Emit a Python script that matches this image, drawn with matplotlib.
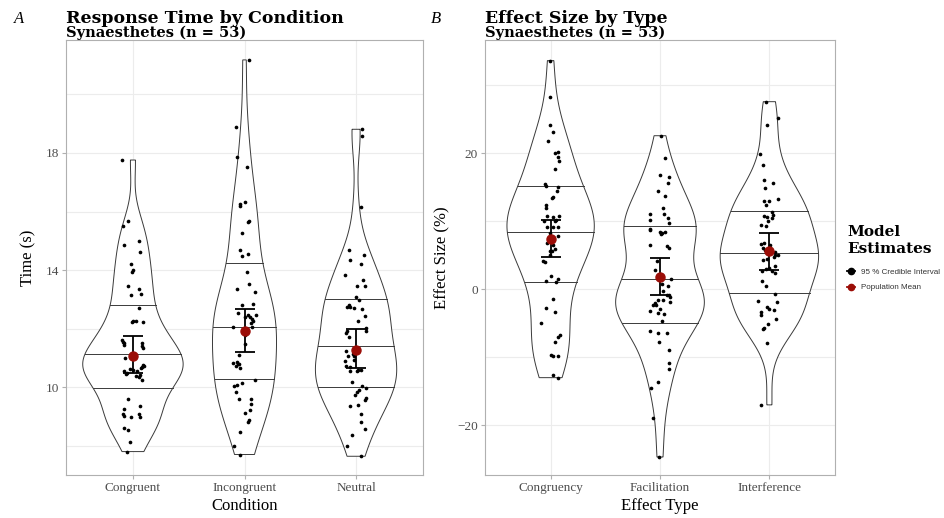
import numpy as np
import matplotlib
matplotlib.use("Agg")
import matplotlib.pyplot as plt
from matplotlib.lines import Line2D

# ---------------- data ----------------
conditions = ["Congruent", "Incongruent", "Neutral"]
effect_types = ["Congruency", "Facilitation", "Interference"]

congruent_rt = [17.76, 15.68, 15.50, 15.00, 14.85, 14.63, 14.21, 14.02, 13.95, 13.45, 13.34, 13.16, 13.18,
                12.72, 12.27, 12.21, 12.22, 11.61, 11.52, 11.44, 11.50, 11.33, 11.01, 10.75, 10.70, 10.61,
                10.54, 10.58, 10.45, 10.36, 10.24, 10.39, 9.61, 9.25, 9.35, 9.07, 8.97, 8.99, 9.10, 8.59,
                8.53, 8.13, 7.80, 11.55, 11.40, 10.65, 10.50, 10.42, 10.72, 11.05, 10.55, 9.02, 12.25]
congruent_jit = [-0.10, -0.04, -0.09, 0.05, -0.08, 0.06, -0.02, 0.00, -0.01, -0.04, 0.05, -0.02, 0.07,
                 0.05, 0.00, -0.01, 0.09, -0.10, -0.08, -0.08, 0.08, 0.09, -0.07, 0.09, 0.08, -0.03,
                 -0.08, 0.00, -0.06, 0.05, 0.08, 0.03, -0.04, -0.08, 0.06, -0.09, -0.02, 0.06, 0.05, -0.08,
                 -0.04, -0.03, -0.05, -0.09, 0.08, 0.07, -0.05, 0.06, 0.10, 0.02, 0.04, -0.08, 0.03]

incongruent_rt = [21.18, 18.88, 17.87, 17.51, 16.25, 16.32, 16.19, 15.69, 15.64, 15.28, 14.67, 14.49, 14.55,
                  13.94, 13.36, 13.51, 13.25, 12.80, 12.84, 12.48, 12.54, 12.40, 12.40, 12.26, 12.34, 12.06,
                  12.06, 11.77, 11.46, 11.09, 10.83, 10.85, 10.80, 10.71, 10.64, 10.24, 10.13, 10.09, 10.03,
                  9.84, 9.61, 9.58, 9.44, 9.21, 9.12, 8.87, 8.81, 8.47, 7.98, 7.70, 12.45, 10.78, 12.20]
incongruent_jit = [0.04, -0.08, -0.07, 0.02, -0.04, 0.00, -0.04, 0.04, 0.03, -0.02, -0.04, -0.02, 0.03,
                   0.02, -0.07, 0.04, 0.09, -0.02, 0.08, 0.10, -0.06, 0.00, 0.05, 0.08, 0.07, -0.10,
                   0.07, 0.00, 0.00, -0.05, -0.10, -0.07, -0.06, -0.08, -0.04, 0.09, -0.02, -0.07, -0.09,
                   -0.08, -0.05, 0.06, 0.06, 0.05, 0.00, 0.04, 0.03, -0.04, -0.09, -0.04, 0.03, -0.05, 0.06]

neutral_rt = [18.81, 18.58, 16.16, 14.68, 14.52, 14.34, 14.20, 13.84, 13.66, 13.47, 13.47, 13.07, 12.98,
              12.75, 12.80, 12.73, 12.66, 12.43, 12.27, 11.93, 11.86, 12.01, 11.93, 11.72, 11.23, 11.07,
              11.07, 10.91, 10.94, 10.69, 10.73, 10.57, 10.54, 10.54, 10.17, 10.03, 9.96, 9.85, 9.74,
              9.64, 9.57, 9.36, 9.38, 9.09, 8.80, 8.38, 8.57, 7.99, 7.64, 11.15, 10.60, 9.90, 12.70]
neutral_jit = [0.05, 0.05, 0.04, -0.06, 0.07, -0.05, 0.04, -0.10, 0.06, 0.01, 0.08, 0.00, 0.03,
               -0.08, -0.06, -0.05, 0.05, 0.08, 0.02, -0.08, -0.09, 0.09, 0.09, -0.06, -0.09, -0.07,
               -0.02, -0.10, -0.02, -0.05, -0.09, 0.04, -0.05, 0.01, -0.04, 0.05, 0.09, 0.01, -0.01,
               0.09, 0.08, -0.05, 0.02, 0.04, 0.04, -0.04, 0.08, -0.08, 0.04, -0.03, 0.02, 0.03, -0.02]

congruency_es = [33.57, 28.28, 24.16, 23.08, 21.81, 19.94, 20.14, 19.45, 18.87, 17.59, 15.44, 15.20, 14.94,
                 14.45, 13.57, 13.33, 12.40, 11.86, 10.78, 10.63, 10.78, 9.95, 10.04, 9.16, 9.16, 9.06,
                 8.18, 7.79, 6.81, 6.52, 5.93, 5.64, 5.64, 4.16, 3.97, 4.95, 1.96, 1.22, 1.47, 1.12,
                 -1.47, -2.70, -3.39, -4.91, -6.72, -7.01, -7.70, -9.66, -9.80, -9.85, -12.60, -13.00, 10.20]
congruency_jit = [-0.01, -0.01, -0.01, 0.02, -0.02, 0.04, 0.07, 0.07, 0.08, 0.04, -0.05, -0.04, 0.07,
                  0.06, 0.02, 0.01, -0.04, -0.04, -0.03, 0.02, 0.08, -0.06, 0.04, -0.03, 0.02, 0.07,
                  -0.01, 0.07, -0.03, 0.02, 0.04, -0.01, 0.01, -0.07, -0.05, -0.01, 0.00, -0.04, 0.07, 0.05,
                  0.02, -0.04, 0.04, -0.09, 0.09, 0.07, 0.04, 0.00, 0.02, 0.07, 0.02, 0.07, 0.05]

facilitation_es = [22.54, 19.26, 16.76, 16.51, 15.53, 14.41, 13.62, 11.96, 11.07, 11.00, 10.48, 10.09, 9.70,
                   8.82, 8.62, 8.43, 8.23, 8.33, 8.04, 6.47, 6.37, 6.07, 4.12, 2.84, 1.49, 0.41, 0.78,
                   -0.93, -0.93, -1.12, -1.87, -1.58, -1.58, -2.04, -2.33, -2.40, -3.25, -3.53, -3.72, -4.65,
                   -6.13, -6.41, -6.41, -7.80, -9.00, -10.90, -11.70, -13.60, -14.50, -18.90, -24.66, -0.20, -2.90]
facilitation_jit = [0.01, 0.05, 0.00, 0.08, 0.07, -0.02, 0.05, 0.03, 0.04, -0.09, 0.07, -0.09, 0.08,
                    -0.09, -0.09, 0.00, 0.02, 0.05, 0.01, -0.09, 0.06, 0.08, -0.03, -0.05, 0.10, 0.07, 0.02,
                    0.08, 0.06, 0.09, 0.09, -0.02, 0.03, -0.05, -0.06, -0.04, -0.09, -0.02, 0.04, 0.02,
                    -0.09, -0.02, 0.06, -0.01, 0.08, 0.08, 0.08, -0.02, -0.08, -0.06, -0.01, 0.03, 0.00]

interference_es = [27.54, 25.14, 24.06, 19.85, 18.18, 16.02, 15.63, 14.85, 13.18, 12.88, 12.95, 12.30, 11.32,
                   10.73, 10.63, 10.83, 9.46, 9.31, 10.05, 6.61, 6.76, 6.51, 6.03, 5.78, 5.44, 4.95, 4.66,
                   4.22, 4.36, 3.18, 3.37, 2.69, 2.60, 2.35, 1.22, 0.44, -0.64, -1.72, -1.82, -2.60, -2.85,
                   -3.29, -3.83, -4.42, -5.64, -5.83, -5.05, -7.85, -17.00, 10.50, 5.00, 3.00, -3.00]
interference_jit = [-0.03, 0.08, -0.02, -0.09, -0.06, -0.05, 0.03, -0.04, 0.08, -0.05, 0.00, -0.03, 0.02,
                    -0.05, -0.02, 0.03, -0.08, -0.03, -0.01, -0.08, -0.05, 0.01, -0.06, -0.04, 0.05, 0.08, 0.04,
                    -0.06, -0.02, 0.00, 0.05, -0.07, 0.02, 0.05, -0.07, -0.03, 0.05, -0.10, 0.07, -0.02, 0.00,
                    -0.08, -0.08, 0.06, -0.05, -0.06, -0.01, -0.02, -0.08, 0.02, 0.05, -0.03, 0.04]

# model estimates: population mean and 95% credible interval
rt_mean = [11.08, 11.91, 11.26]
rt_lower = [10.49, 11.21, 10.64]
rt_upper = [11.74, 12.68, 11.99]

es_mean = [7.44, 1.85, 5.59]
es_lower = [4.75, -0.88, 2.88]
es_upper = [10.15, 4.56, 8.28]

rt_ticks = [10, 14, 18]
es_ticks = [-20, 0, 20]

# ---------------- style ----------------
SERIF = ["Liberation Serif", "DejaVu Serif"]
TITLE_FONT = ["DejaVu Serif"]
MEAN_COL = "#9b0d07"
OUTLINE = "#3a3a3a"
GRID = "#ececec"


def bw_nrd0(x):
    x = np.asarray(x, float)
    sd = np.std(x, ddof=1)
    iqr = np.subtract(*np.percentile(x, [75, 25]))
    lo = min(sd, iqr / 1.34) if iqr > 0 else sd
    return 0.9 * lo * len(x) ** (-0.2)


def kde(x, n=512):
    x = np.asarray(x, float)
    bw = bw_nrd0(x)
    grid = np.linspace(x.min(), x.max(), n)
    d = np.exp(-0.5 * ((grid[:, None] - x[None, :]) / bw) ** 2).sum(1)
    d /= (len(x) * bw * np.sqrt(2 * np.pi))
    return grid, d


def panel(ax, groups, jits, means, lows, ups, ticks, minor, ylim):
    dens = [kde(g) for g in groups]
    maxd = max(d.max() for _, d in dens)
    for i, ((grid, d), vals, jit) in enumerate(zip(dens, groups, jits)):
        pos = i + 1
        half = 0.45 * d / maxd
        xs = np.concatenate([pos - half, (pos + half)[::-1]])
        ys = np.concatenate([grid, grid[::-1]])
        ax.fill(xs, ys, facecolor="white", edgecolor=OUTLINE, lw=0.7, zorder=2)
        cdf = np.cumsum(d) / d.sum()
        for q in (0.25, 0.5, 0.75):
            yq = np.interp(q, cdf, grid)
            hw = np.interp(yq, grid, half)
            ax.plot([pos - hw, pos + hw], [yq, yq], color=OUTLINE, lw=0.7, zorder=3)
        ax.scatter(pos + np.asarray(jit), vals, s=7, color="black", zorder=4, linewidths=0)
        ax.errorbar([pos], [means[i]], yerr=[[means[i] - lows[i]], [ups[i] - means[i]]],
                    fmt="none", ecolor="black", elinewidth=1.3, capsize=7, capthick=1.3, zorder=5)
        ax.plot([pos], [means[i]], marker="o", color=MEAN_COL, markersize=6.5, zorder=6, mec=MEAN_COL)
    ax.set_xlim(0.4, 3.6)
    ax.set_ylim(*ylim)
    ax.set_xticks([1, 2, 3])
    ax.set_yticks(ticks)
    ax.set_yticks(minor, minor=True)
    ax.grid(True, which="both", color=GRID, lw=0.8, zorder=0)
    ax.set_axisbelow(True)
    for s in ax.spines.values():
        s.set_color("#b0b0b0")
        s.set_linewidth(0.8)
    ax.tick_params(which="both", length=3, pad=2, color="#b0b0b0", labelsize=9.5, labelcolor="#4d4d4d")
    ax.tick_params(which="minor", length=0)
    for lab in ax.get_xticklabels() + ax.get_yticklabels():
        lab.set_family(SERIF)


fig = plt.figure(figsize=(9.44, 5.18), dpi=100)
axA = fig.add_axes([66 / 944, 1 - 475 / 518, 357 / 944, 435 / 518])
axB = fig.add_axes([485 / 944, 1 - 475 / 518, 350 / 944, 435 / 518])

panel(axA, [congruent_rt, incongruent_rt, neutral_rt],
      [congruent_jit, incongruent_jit, neutral_jit],
      rt_mean, rt_lower, rt_upper, rt_ticks, [8, 12, 16, 20], (7.0, 21.86))
axA.set_xticklabels(conditions)
axA.set_xlabel("Condition", family=SERIF, fontsize=12, labelpad=3)
axA.set_ylabel("Time (s)", family=SERIF, fontsize=12, labelpad=7)

panel(axB, [congruency_es, facilitation_es, interference_es],
      [congruency_jit, facilitation_jit, interference_jit],
      es_mean, es_lower, es_upper, es_ticks, [-10, 10, 30], (-27.3, 36.6))
axB.set_xticklabels(effect_types)
axB.set_xlabel("Effect Type", family=SERIF, fontsize=12, labelpad=3)
axB.set_ylabel("Effect Size (%)", family=SERIF, fontsize=12, labelpad=5)

# titles
fig.text(66 / 944, 1 - 23 / 518, "Response Time by Condition", family=TITLE_FONT,
         fontweight="bold", fontsize=12.5, ha="left", va="baseline")
fig.text(66 / 944, 1 - 37 / 518, "Synaesthetes (n = 53)", family=TITLE_FONT,
         fontweight="bold", fontsize=10.5, ha="left", va="baseline")
fig.text(485 / 944, 1 - 23 / 518, "Effect Size by Type", family=TITLE_FONT,
         fontweight="bold", fontsize=12.5, ha="left", va="baseline")
fig.text(485 / 944, 1 - 37 / 518, "Synaesthetes (n = 53)", family=TITLE_FONT,
         fontweight="bold", fontsize=10.5, ha="left", va="baseline")
fig.text(14 / 944, 1 - 23 / 518, "A", family=SERIF, style="italic", fontsize=12, ha="left", va="baseline")
fig.text(431 / 944, 1 - 23 / 518, "B", family=SERIF, style="italic", fontsize=12, ha="left", va="baseline")

# legend
handles = [Line2D([0], [0], color="black", marker="o", markersize=4.5, lw=1.3),
           Line2D([0], [0], color=MEAN_COL, marker="o", markersize=4.5, lw=1.3)]
leg = fig.legend(handles, ["95 % Credible Interval", "Population Mean"],
                 loc="upper left", bbox_to_anchor=(845 / 944, 1 - 223 / 518),
                 frameon=False, handlelength=0.9, handletextpad=0.8, borderaxespad=0,
                 borderpad=0.3, labelspacing=1.0, title="Model\nEstimates",
                 title_fontproperties={"family": TITLE_FONT, "weight": "bold", "size": 11},
                 prop={"family": ["Liberation Sans", "DejaVu Sans"], "size": 5.8})
leg._legend_box.align = "left"
leg._legend_box.sep = 9
for t in leg.get_texts():
    t.set_color("#333333")

fig.savefig("out.png", dpi=100)
